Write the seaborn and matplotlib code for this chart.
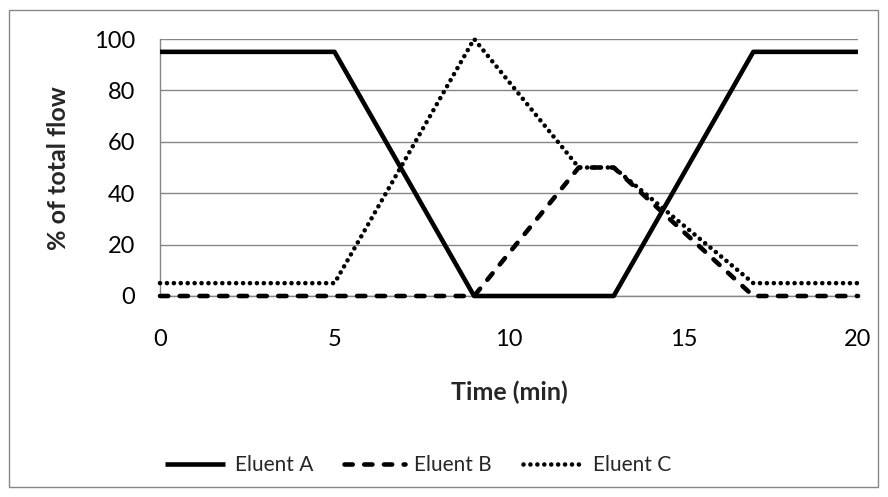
import matplotlib
matplotlib.use("Agg")
import matplotlib.pyplot as plt
import seaborn as sns
import pandas as pd
from matplotlib.patches import Rectangle
from matplotlib.lines import Line2D

times = [0, 5, 9, 12, 13, 17, 20]
eluent_a = [95, 95, 0, 0, 0, 95, 95]
eluent_b = [0, 0, 0, 50, 50, 0, 0]
eluent_c = [5, 5, 100, 50, 50, 5, 5]
series_names = ["Eluent A", "Eluent B", "Eluent C"]
x_ticks = [0, 5, 10, 15, 20]
y_ticks = [0, 20, 40, 60, 80, 100]

sns.set_theme(style="white")
plt.rcParams['font.family'] = ['Lato', 'DejaVu Sans']

df = pd.concat([
    pd.DataFrame({"Time": times, "Value": vals, "Eluent": name})
    for name, vals in zip(series_names, [eluent_a, eluent_b, eluent_c])
])

W, H = 888, 497
fig = plt.figure(figsize=(W / 100, H / 100), dpi=100)
fig.patch.set_facecolor("white")
fig.patches.append(Rectangle((9 / W, 1 - 487 / H), 869 / W, 477 / H,
                             transform=fig.transFigure, fill=False,
                             edgecolor="#868686", lw=1.0))

ax = fig.add_axes([160 / W, 1 - 296 / H, (858 - 160) / W, (296 - 39) / H])
ax.set_axisbelow(True)

lw = 3.3
dashes = {"Eluent A": "", "Eluent B": (1.8, 2.5), "Eluent C": (0.01, 1.5)}
sns.lineplot(data=df, x="Time", y="Value", style="Eluent", dashes=dashes,
             color="black", linewidth=lw, ax=ax, legend=False,
             style_order=series_names)
for ln in ax.lines:
    ln.set_dash_capstyle("round")
    ln.set_solid_capstyle("butt")
    ln.set_clip_on(False)
    ln.set_zorder(3)

ax.set_xlim(0, 20)
ax.set_ylim(0, 100)
ax.set_xticks(x_ticks)
ax.set_yticks(y_ticks)
ax.tick_params(axis="both", length=0, labelsize=17, colors="black")
ax.tick_params(axis="x", pad=24)
ax.tick_params(axis="y", pad=18)
ax.yaxis.grid(True, color="#868686", lw=1.0)
ax.xaxis.grid(False)
for s in ["top", "right"]:
    ax.spines[s].set_visible(False)
for s in ["left", "bottom"]:
    ax.spines[s].set_color("#868686")
    ax.spines[s].set_linewidth(1.0)
    ax.spines[s].set_zorder(1)
ax.set_xlabel("")
ax.set_ylabel("")

fig.text(509 / W, 1 - 392 / H, "Time (min)", fontsize=18, fontweight="bold",
         ha="center", va="center")
fig.text(59 / W, 1 - 168 / H, "% of total flow", fontsize=18, fontweight="bold",
         ha="center", va="center", rotation=90)

handles = [
    Line2D([], [], color="black", lw=lw, linestyle="-", solid_capstyle="butt"),
    Line2D([], [], color="black", lw=lw, linestyle=(0, dashes["Eluent B"]),
           dash_capstyle="round"),
    Line2D([], [], color="black", lw=lw, linestyle=(0, dashes["Eluent C"]),
           dash_capstyle="round"),
]
leg = fig.legend(handles, series_names, loc="center",
                 bbox_to_anchor=(418 / W, 1 - 465 / H), ncol=3, frameon=False,
                 fontsize=15, handlelength=2.9, handletextpad=0.45,
                 columnspacing=1.5)

fig.savefig("out.png", dpi=100, facecolor="white")
